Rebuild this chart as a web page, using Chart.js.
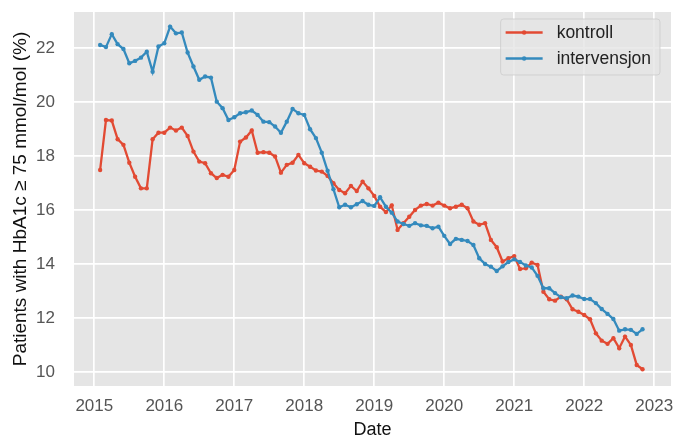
<!DOCTYPE html>
<html>
<head>
<meta charset="utf-8">
<script src="https://cdn.jsdelivr.net/npm/chart.js@4.4.1/dist/chart.umd.min.js"></script>
<style>
  html, body { margin: 0; padding: 0; background: #ffffff; }
  #wrap { width: 676px; height: 439px; }
</style>
</head>
<body>
<div id="wrap"><canvas id="chart" width="676" height="439"></canvas></div>
<script>
// monthly observations, Jan 2015 .. Oct 2022
const months = [
  "2015-01","2015-02","2015-03","2015-04","2015-05","2015-06","2015-07","2015-08","2015-09","2015-10","2015-11","2015-12",
  "2016-01","2016-02","2016-03","2016-04","2016-05","2016-06","2016-07","2016-08","2016-09","2016-10","2016-11","2016-12",
  "2017-01","2017-02","2017-03","2017-04","2017-05","2017-06","2017-07","2017-08","2017-09","2017-10","2017-11","2017-12",
  "2018-01","2018-02","2018-03","2018-04","2018-05","2018-06","2018-07","2018-08","2018-09","2018-10","2018-11","2018-12",
  "2019-01","2019-02","2019-03","2019-04","2019-05","2019-06","2019-07","2019-08","2019-09","2019-10","2019-11","2019-12",
  "2020-01","2020-02","2020-03","2020-04","2020-05","2020-06","2020-07","2020-08","2020-09","2020-10","2020-11","2020-12",
  "2021-01","2021-02","2021-03","2021-04","2021-05","2021-06","2021-07","2021-08","2021-09","2021-10","2021-11","2021-12",
  "2022-01","2022-02","2022-03","2022-04","2022-05","2022-06","2022-07","2022-08","2022-09","2022-10"
];

const kontroll = [
  17.49, 19.34, 19.32, 18.63, 18.42, 17.76, 17.24, 16.81, 16.81, 18.63, 18.87, 18.87,
  19.06, 18.95, 19.06, 18.75, 18.17, 17.80, 17.74, 17.37, 17.19, 17.31, 17.24, 17.49,
  18.54, 18.69, 18.95, 18.13, 18.15, 18.13, 17.99, 17.39, 17.68, 17.76, 18.05, 17.74,
  17.61, 17.47, 17.43, 17.27, 17.00, 16.75, 16.63, 16.90, 16.71, 17.06, 16.81, 16.53,
  16.13, 15.93, 16.18, 15.27, 15.52, 15.76, 16.01, 16.17, 16.23, 16.17, 16.28, 16.17,
  16.07, 16.13, 16.20, 16.07, 15.58, 15.46, 15.52, 14.90, 14.63, 14.10, 14.22, 14.30,
  13.82, 13.85, 14.06, 13.97, 12.98, 12.70, 12.65, 12.80, 12.70, 12.33, 12.24, 12.12,
  11.96, 11.44, 11.17, 11.05, 11.26, 10.89, 11.32, 11.01, 10.27, 10.11
];

const intervensjon = [
  22.12, 22.04, 22.52, 22.15, 21.97, 21.44, 21.53, 21.65, 21.87, 21.13, 22.06, 22.18,
  22.80, 22.55, 22.58, 21.84, 21.32, 20.83, 20.95, 20.91, 20.02, 19.78, 19.34, 19.44,
  19.59, 19.63, 19.69, 19.53, 19.28, 19.26, 19.10, 18.87, 19.28, 19.75, 19.59, 19.53,
  19.00, 18.67, 18.13, 17.46, 16.78, 16.11, 16.20, 16.11, 16.22, 16.34, 16.20, 16.16,
  16.48, 16.13, 15.91, 15.58, 15.49, 15.42, 15.52, 15.44, 15.42, 15.33, 15.39, 15.05,
  14.75, 14.94, 14.90, 14.86, 14.71, 14.22, 14.01, 13.91, 13.75, 13.92, 14.08, 14.18,
  14.08, 13.95, 13.88, 13.57, 13.11, 13.11, 12.93, 12.78, 12.74, 12.84, 12.80, 12.71,
  12.71, 12.56, 12.34, 12.16, 11.97, 11.54, 11.59, 11.57, 11.42, 11.59
];

const yearTicks = [2015, 2016, 2017, 2018, 2019, 2020, 2021, 2022, 2023];
const valueTicks = [10, 12, 14, 16, 18, 20, 22];

// month-end as decimal year
function toYear(m) {
  const [y, mo] = m.split("-").map(Number);
  return y + mo / 12;
}

const FONT = "'Liberation Sans', Arial, sans-serif";
const RED = "#E24A33";
const BLUE = "#348ABD";

const plotBackground = {
  id: "plotBackground",
  beforeDraw(chart) {
    const { ctx, chartArea: a } = chart;
    ctx.save();
    ctx.fillStyle = "#E5E5E5";
    ctx.fillRect(a.left, a.top, a.right - a.left, a.bottom - a.top);
    ctx.restore();
  },
};

// matplotlib-like legend in the upper right corner
const boxLegend = {
  id: "boxLegend",
  afterDraw(chart) {
    const { ctx, chartArea: a } = chart;
    const sets = chart.data.datasets;
    ctx.save();
    ctx.font = "17.5px " + FONT;
    const textW = Math.max(...sets.map((d) => ctx.measureText(d.label).width));
    const right = a.right - 11;
    const top = a.top + 7;
    const rowH = 26;
    const left = right - (9 + textW + 14 + 37 + 5);
    const h = 56;
    ctx.beginPath();
    ctx.roundRect(left, top, right - left, h, 3);
    ctx.fillStyle = "rgba(229,229,229,0.8)";
    ctx.fill();
    ctx.strokeStyle = "rgba(204,204,204,0.8)";
    ctx.lineWidth = 1;
    ctx.stroke();
    sets.forEach((d, i) => {
      const y = top + 13.5 + i * rowH;
      const x0 = left + 5;
      ctx.strokeStyle = d.borderColor;
      ctx.lineWidth = 2.3;
      ctx.beginPath();
      ctx.moveTo(x0, y);
      ctx.lineTo(x0 + 37, y);
      ctx.stroke();
      ctx.fillStyle = d.borderColor;
      ctx.beginPath();
      ctx.arc(x0 + 18.5, y, 2.2, 0, Math.PI * 2);
      ctx.fill();
      ctx.fillStyle = "#222222";
      ctx.textBaseline = "middle";
      ctx.textAlign = "left";
      ctx.fillText(d.label, x0 + 37 + 14, y + 1);
    });
    ctx.restore();
  },
};

const series = (values) => months.map((m, i) => ({ x: toYear(m), y: values[i] }));

new Chart(document.getElementById("chart"), {
  type: "line",
  data: {
    datasets: [
      {
        label: "kontroll",
        data: series(kontroll),
        borderColor: RED,
        backgroundColor: RED,
        borderWidth: 2.3,
        pointRadius: 2.2,
        pointBorderWidth: 0,
        tension: 0,
        order: 2,
      },
      {
        label: "intervensjon",
        data: series(intervensjon),
        borderColor: BLUE,
        backgroundColor: BLUE,
        borderWidth: 2.3,
        pointRadius: 2.2,
        pointBorderWidth: 0,
        tension: 0,
        order: 1,
      },
    ],
  },
  options: {
    responsive: false,
    animation: false,
    devicePixelRatio: 1,
    layout: { padding: { top: 12, right: 5, left: 0, bottom: 0 } },
    plugins: { legend: { display: false }, tooltip: { enabled: false } },
    scales: {
      x: {
        type: "linear",
        min: 2014.71,
        max: 2023.24,
        afterBuildTicks: (s) => { s.ticks = yearTicks.map((v) => ({ value: v })); },
        afterFit: (s) => { s.height = 53; s.paddingLeft = 0; s.paddingRight = 0; },
        grid: { color: "#ffffff", lineWidth: 1.7, drawTicks: false },
        border: { display: false },
        ticks: {
          padding: 10,
          color: "#555555",
          font: { family: FONT, size: 17 },
          maxRotation: 0,
          callback: (v) => String(v),
        },
        title: {
          display: true,
          text: "Date",
          color: "#111111",
          font: { family: FONT, size: 18, lineHeight: 1 },
          padding: { top: 0, bottom: 0 },
        },
      },
      y: {
        min: 9.49,
        max: 23.34,
        afterBuildTicks: (s) => { s.ticks = valueTicks.map((v) => ({ value: v })); },
        afterFit: (s) => { s.width = 74; s.paddingTop = 0; s.paddingBottom = 0; },
        grid: { color: "#ffffff", lineWidth: 1.7, drawTicks: false },
        border: { display: false },
        ticks: {
          padding: 19,
          color: "#555555",
          font: { family: FONT, size: 17 },
          callback: (v) => String(v),
        },
        title: {
          display: true,
          text: "Patients with HbA1c ≥ 75 mmol/mol (%)",
          color: "#111111",
          font: { family: FONT, size: 19, lineHeight: 1 },
          padding: { top: 11, bottom: 0 },
        },
      },
    },
  },
  plugins: [plotBackground, boxLegend],
});
</script>
</body>
</html>
